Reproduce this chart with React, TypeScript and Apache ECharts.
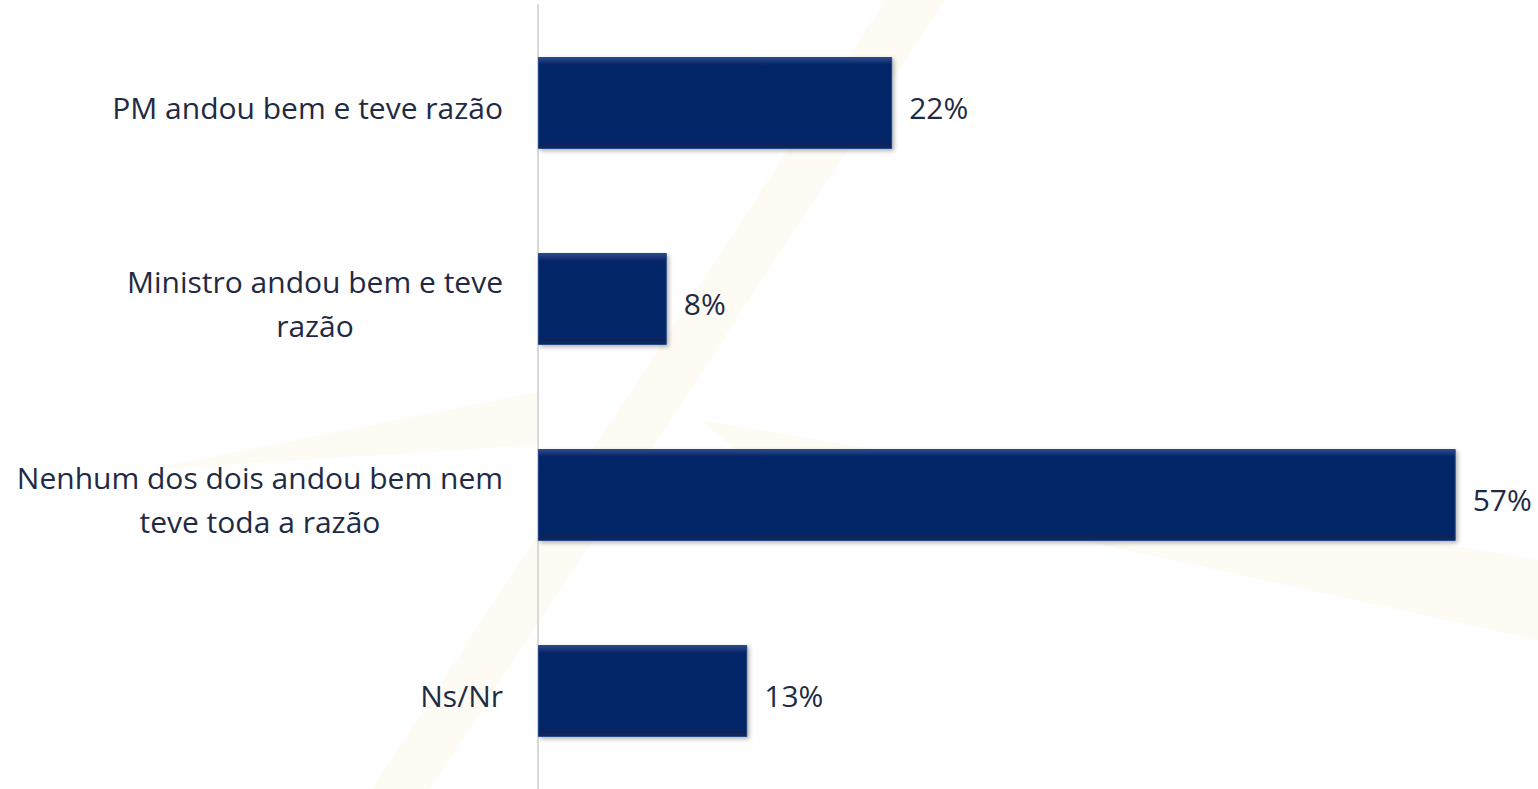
import React, { useEffect, useRef } from "react";
import * as echarts from "echarts";

const categories = [
  "PM andou bem e teve razão",
  "Ministro andou bem e teve\nrazão",
  "Nenhum dos dois andou bem nem\nteve toda a razão",
  "Ns/Nr",
];
const values = [22, 8, 57, 13];

const TEXT = "#1f2a44";
const FONT = "'Open Sans', 'Noto Sans', sans-serif";

export default function App() {
  const ref = useRef<HTMLDivElement>(null);
  useEffect(() => {
    document.body.style.margin = "0";
    const chart = echarts.init(ref.current!, null, { renderer: "svg" });
    chart.setOption({
      animation: false,
      backgroundColor: "#ffffff",
      graphic: [
        {
          type: "polygon",
          z: 0,
          silent: true,
          shape: { points: [[372, 789], [430, 789], [945, 0], [885, 0]] },
          style: { fill: "#fefbf4" },
        },
        {
          type: "polygon",
          z: 0,
          silent: true,
          shape: { points: [[145, 470], [538, 392], [538, 445]] },
          style: { fill: "#fefbf5" },
        },
        {
          type: "polygon",
          z: 0,
          silent: true,
          shape: { points: [[700, 420], [1538, 560], [1538, 640], [760, 470]] },
          style: { fill: "#fefbf5" },
        },
      ],
      grid: { left: 538, top: 5, height: 794, width: 966, containLabel: false },
      xAxis: {
        type: "value",
        min: 0,
        max: 60,
        show: false,
        splitLine: { show: false },
      },
      yAxis: {
        type: "category",
        inverse: true,
        data: categories,
        axisLine: { show: true, lineStyle: { color: "#d9d9d9", width: 2 } },
        axisTick: { show: false },
        axisLabel: {
          margin: 35,
          padding: [9, 0, 0, 0],
          formatter: (v: string) =>
            v
              .split("\n")
              .map((l) => `{c|${l}}`)
              .join("\n"),
          rich: {
            c: {
              align: "center",
              fontSize: 30,
              lineHeight: 44,
              color: TEXT,
              fontFamily: FONT,
            },
          },
        },
      },
      series: [
        {
          type: "bar",
          data: values,
          barWidth: 92,
          itemStyle: {
            color: {
              type: "linear",
              x: 0,
              y: 0,
              x2: 0,
              y2: 1,
              colorStops: [
                { offset: 0, color: "#2c4b8c" },
                { offset: 0.06, color: "#0f2e70" },
                { offset: 0.08, color: "#052567" },
                { offset: 0.92, color: "#052567" },
                { offset: 0.95, color: "#0a2259" },
                { offset: 1, color: "#0f2a60" },
              ],
            },
            borderColor: "#284887",
            borderWidth: 1,
            shadowColor: "rgba(0,0,0,0.3)",
            shadowBlur: 4,
            shadowOffsetX: 2,
            shadowOffsetY: 2,
          },
          label: {
            show: true,
            position: "right",
            distance: 17,
            offset: [0, 4],
            formatter: "{c}%",
            fontSize: 30,
            color: TEXT,
            fontFamily: FONT,
          },
        },
      ],
    });
    return () => chart.dispose();
  }, []);
  return <div ref={ref} style={{ width: 1538, height: 789 }} />;
}
